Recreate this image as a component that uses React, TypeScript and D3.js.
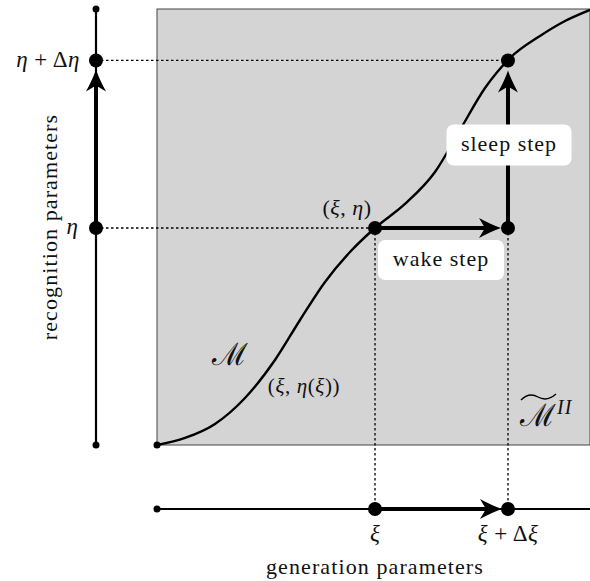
import React from "react";
import * as d3 from "d3";

// manifold curve, in normalised (xi, eta) units
const CURVE_XI = [0, 0.0647, 0.1339, 0.2032, 0.2725, 0.3303, 0.388, 0.4457, 0.5035, 0.5727, 0.642, 0.6998, 0.7575, 0.8152, 0.8845, 0.9423, 1];
const CURVE_ETA = [0, 0.0161, 0.0482, 0.1078, 0.195, 0.2867, 0.3739, 0.4427, 0.4977, 0.5528, 0.6261, 0.7225, 0.8188, 0.8876, 0.9381, 0.9725, 0.998];

const XI = [0.5035, 0.8106]; // xi, xi + dxi
const ETA = [0.4977, 0.882]; // eta, eta + deta

const W = 590;
const H = 581;
const FONT = "'Liberation Serif', 'DejaVu Serif', serif";

const x = d3.scaleLinear().domain([0, 1]).range([157, 590]);
const y = d3.scaleLinear().domain([0, 1]).range([445, 9]);

const AXIS_X = 96;
const AXIS_Y = 509;

const curvePts: [number, number][] = CURVE_XI.map((v, i) => [v, CURVE_ETA[i]]);
const line = d3
  .line<[number, number]>()
  .x((d) => x(d[0]))
  .y((d) => y(d[1]))
  .curve(d3.curveMonotoneX);

const HEAD = "M0,0 Q-9,-3 -22,-10 L-16,0 L-22,10 Q-9,3 0,0 Z";

const Arrow = ({ x1, y1, x2, y2 }: { x1: number; y1: number; x2: number; y2: number }) => {
  const ang = (Math.atan2(y2 - y1, x2 - x1) * 180) / Math.PI;
  const len = Math.hypot(x2 - x1, y2 - y1);
  const ux = (x2 - x1) / len;
  const uy = (y2 - y1) / len;
  return (
    <g>
      <line x1={x1} y1={y1} x2={x2 - ux * 14} y2={y2 - uy * 14} stroke="#000" strokeWidth={4} />
      <path d={HEAD} transform={`translate(${x2},${y2}) rotate(${ang})`} fill="#000" />
    </g>
  );
};

const Dot = ({ cx, cy, r }: { cx: number; cy: number; r: number }) => <circle cx={cx} cy={cy} r={r} fill="#000" />;

const Label = ({ cx, cy, w, h, text }: { cx: number; cy: number; w: number; h: number; text: string }) => (
  <g>
    <rect x={cx - w / 2} y={cy - h / 2} width={w} height={h} rx={7} fill="#fff" />
    <text x={cx} y={cy + 6} textAnchor="middle" fontSize={22} letterSpacing={1}>
      {text}
    </text>
  </g>
);

export default function App() {
  const px0 = x(XI[0]);
  const px1 = x(XI[1]);
  const py0 = y(ETA[0]);
  const py1 = y(ETA[1]);
  const dotted = { stroke: "#000", strokeWidth: 1.3, strokeDasharray: "2.5,2.5" };

  return (
    <svg
      width={W}
      height={H}
      style={{ position: "absolute", left: 0, top: 0, display: "block", background: "#fff" }}
      fontFamily={FONT}
      fill="#111"
    >
      {/* parameter square */}
      <rect x={x(0)} y={y(1)} width={x(1) - x(0)} height={y(0) - y(1)} fill="#d4d4d4" stroke="#444" strokeWidth={1} />

      {/* projection lines */}
      <line x1={AXIS_X} y1={py1} x2={px1} y2={py1} {...dotted} />
      <line x1={AXIS_X} y1={py0} x2={px0} y2={py0} {...dotted} />
      <line x1={px0} y1={py0} x2={px0} y2={AXIS_Y} {...dotted} />
      <line x1={px1} y1={py0} x2={px1} y2={AXIS_Y} {...dotted} />

      {/* manifold */}
      <path d={line(curvePts) ?? ""} fill="none" stroke="#000" strokeWidth={2.4} />
      <Dot cx={x(0)} cy={y(0)} r={3.5} />

      {/* recognition axis */}
      <line x1={AXIS_X} y1={y(1)} x2={AXIS_X} y2={y(0)} stroke="#000" strokeWidth={2.2} />
      <Dot cx={AXIS_X} cy={y(1)} r={3.5} />
      <Dot cx={AXIS_X} cy={y(0)} r={3.5} />
      <Arrow x1={AXIS_X} y1={py0} x2={AXIS_X} y2={py1 + 9} />
      <Dot cx={AXIS_X} cy={py0} r={7} />
      <Dot cx={AXIS_X} cy={py1} r={7} />

      {/* generation axis */}
      <line x1={x(0)} y1={AXIS_Y} x2={W} y2={AXIS_Y} stroke="#000" strokeWidth={2.2} />
      <Dot cx={x(0)} cy={AXIS_Y} r={3.5} />
      <Arrow x1={px0} y1={AXIS_Y} x2={px1 - 6} y2={AXIS_Y} />
      <Dot cx={px0} cy={AXIS_Y} r={7} />
      <Dot cx={px1} cy={AXIS_Y} r={7} />

      {/* wake and sleep steps */}
      <Arrow x1={px0} y1={py0} x2={px1 - 7} y2={py0} />
      <Arrow x1={px1} y1={py0} x2={px1} y2={py1 + 10} />
      <Dot cx={px0} cy={py0} r={7} />
      <Dot cx={px1} cy={py0} r={7} />
      <Dot cx={px1} cy={py1} r={7} />

      <Label cx={441} cy={260} w={126} h={40} text="wake step" />
      <Label cx={509} cy={145} w={125} h={41} text="sleep step" />

      {/* axis labels */}
      <text x={80} y={py1 + 7} textAnchor="end" fontSize={23} letterSpacing={0.5}>
        <tspan fontStyle="italic">η</tspan> + Δ<tspan fontStyle="italic">η</tspan>
      </text>
      <text x={78} y={py0 + 6} textAnchor="end" fontSize={23} fontStyle="italic">
        η
      </text>
      <text
        transform={`translate(57,${(y(0) + y(1)) / 2}) rotate(-90)`}
        textAnchor="middle"
        fontSize={22}
        letterSpacing={1.1}
      >
        recognition parameters
      </text>

      <text x={px0} y={541} textAnchor="middle" fontSize={23} fontStyle="italic">
        ξ
      </text>
      <text x={px1} y={541} textAnchor="middle" fontSize={23} letterSpacing={0.5}>
        <tspan fontStyle="italic">ξ</tspan> + Δ<tspan fontStyle="italic">ξ</tspan>
      </text>
      <text x={375} y={574} textAnchor="middle" fontSize={22} letterSpacing={1.1}>
        generation parameters
      </text>

      {/* annotations */}
      <text x={347} y={215} textAnchor="middle" fontSize={22} letterSpacing={0.5}>
        (<tspan fontStyle="italic">ξ</tspan>, <tspan fontStyle="italic">η</tspan>)
      </text>
      <text x={304} y={393} textAnchor="middle" fontSize={21} letterSpacing={0.6}>
        (<tspan fontStyle="italic">ξ</tspan>, <tspan fontStyle="italic">η</tspan>(<tspan fontStyle="italic">ξ</tspan>))
      </text>
      <text x={230} y={365} textAnchor="middle" fontSize={31} fontFamily="'DejaVu Serif', serif">
        ℳ
      </text>
      <g>
        <path d="M521,400 Q529,392 538,397 T556,394" fill="none" stroke="#000" strokeWidth={1.4} />
        <text x={538} y={426} textAnchor="middle" fontSize={31} fontFamily="'DejaVu Serif', serif">
          ℳ
        </text>
        <text x={557} y={414} fontSize={20} fontStyle="italic" letterSpacing={1}>
          II
        </text>
      </g>
    </svg>
  );
}
